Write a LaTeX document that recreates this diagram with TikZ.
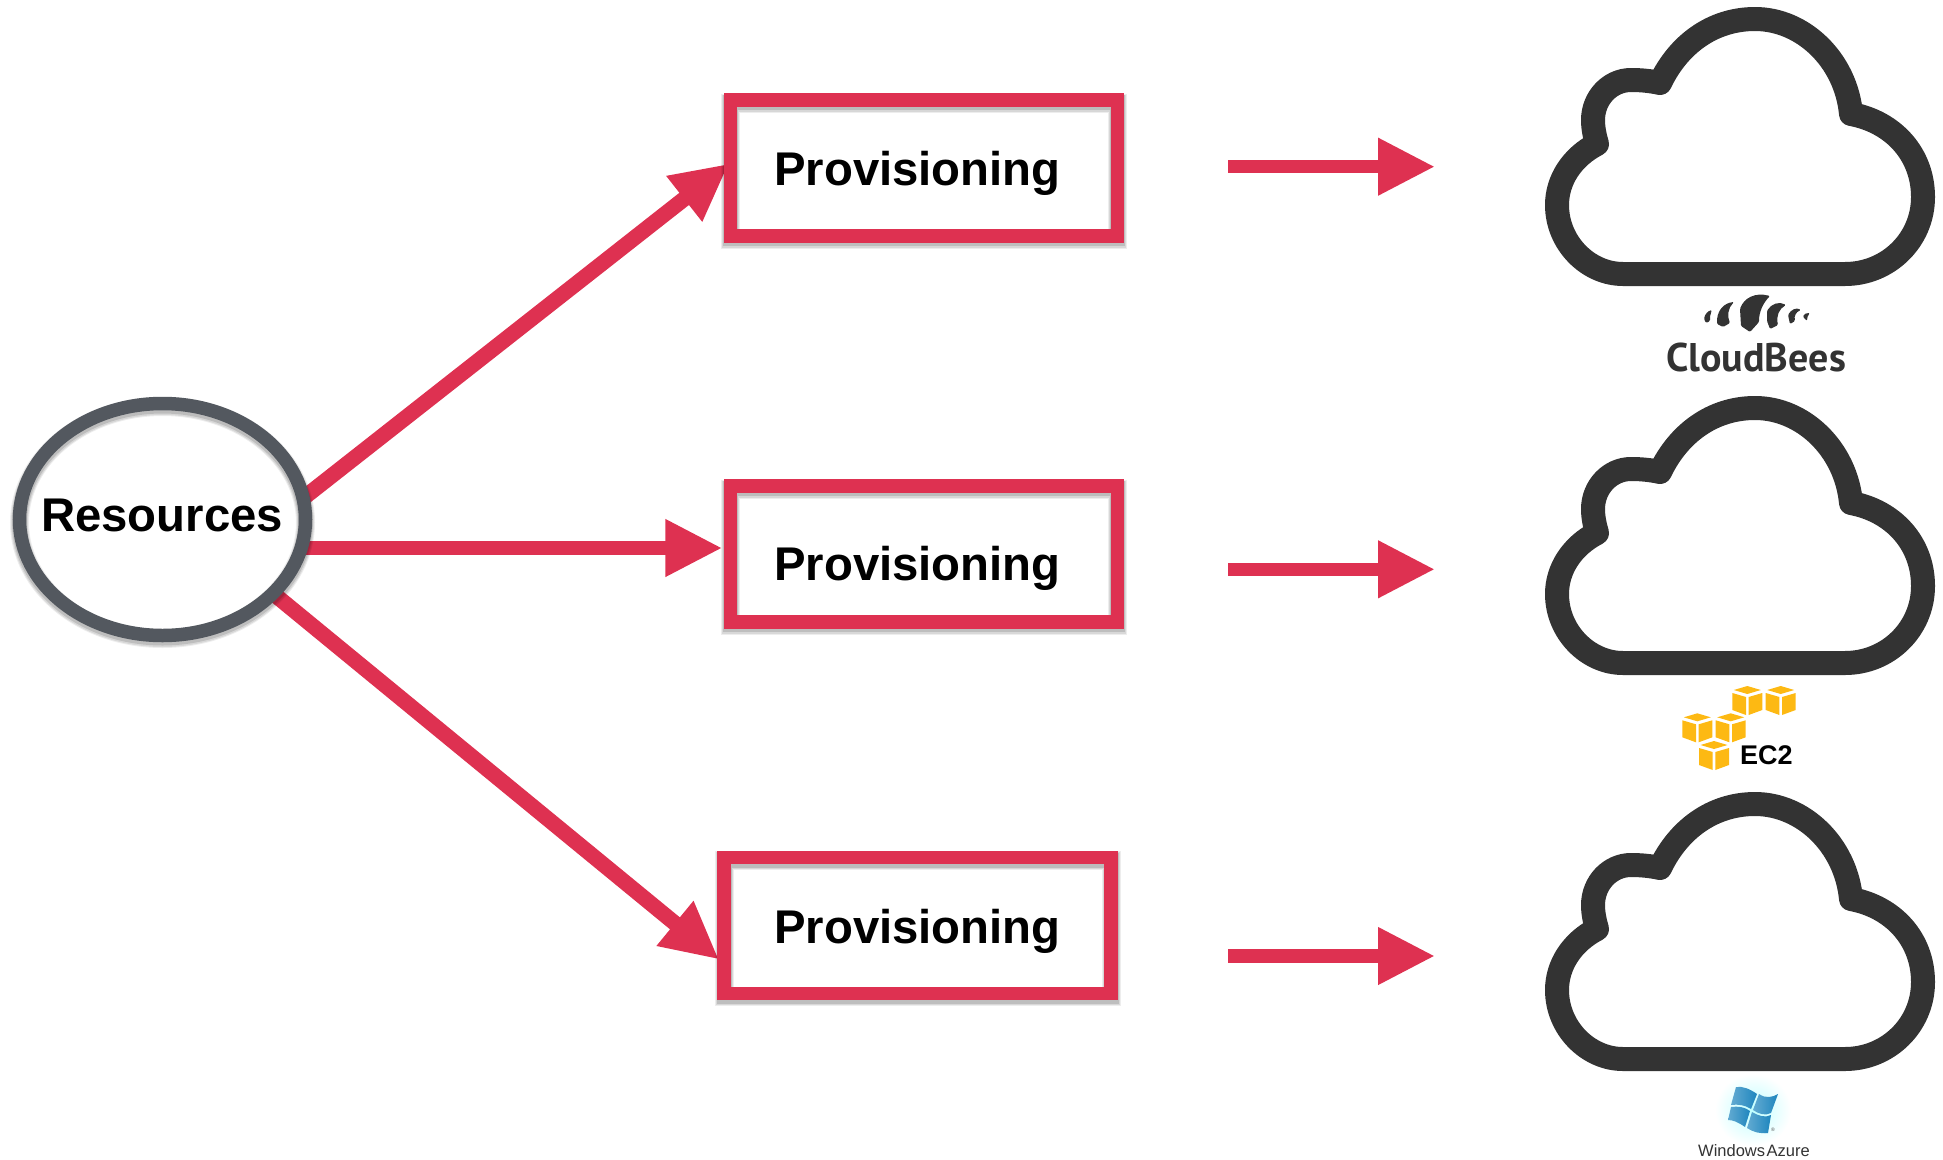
\documentclass[tikz,border=0pt]{standalone}
\usepackage{fontspec}
\setmainfont{Liberation Sans}
\newfontfamily\beesfont{PT Sans}
\usetikzlibrary{arrows.meta,shapes.geometric,backgrounds,calc}
\definecolor{crim}{HTML}{DE3151}
\definecolor{ringgray}{HTML}{53585F}
\definecolor{clouddark}{HTML}{333333}
\definecolor{amz}{HTML}{FDB913}
\definecolor{azblue}{HTML}{1F86BE}
\tikzset{
  softshadow/.style={
    preaction={fill=white},
    preaction={draw=black,draw opacity=.07,line width=19pt,transform canvas={yshift=-3pt}},
    preaction={draw=black,draw opacity=.09,line width=17pt,transform canvas={yshift=-3pt}},
    preaction={draw=black,draw opacity=.12,line width=15pt,transform canvas={yshift=-2.5pt}}},
  provbox/.style={rectangle,softshadow,draw=crim,line width=13.5pt,minimum width=387pt,minimum height=136pt,inner sep=0pt},
  resring/.style={ellipse,softshadow,draw=ringgray,line width=13.5pt,minimum width=286pt,minimum height=232pt,inner sep=0pt},
  biglabel/.style={anchor=base west,inner sep=0pt,font=\fontsize{47.3}{50}\selectfont\bfseries,text=black},
  redarrow/.style={draw=crim,line width=13.5pt,-{Triangle[length=57pt,width=54pt,fill=crim]}},
  slantarrow/.style={redarrow,line width=15.5pt},
  cloudline/.style={draw=clouddark,line width=24pt,line join=round},
  wing/.style={fill=clouddark,rounded corners=1.2pt},
  cubeface/.style={fill=amz},
  pane/.style={left color=#1!70!white,right color=#1,draw=none}
}
\newcommand{\cloudshape}[1]{%
  \draw[cloudline,yshift=#1] (1623,274) -- (1845,274)
    .. controls (1888,274) and (1923,240) .. (1923,197)
    .. controls (1923,155) and (1894,122) .. (1851,114)
    .. controls (1846,60) and (1803,19) .. (1755,19)
    .. controls (1712,19) and (1678,45) .. (1660,83)
    .. controls (1651,81) and (1641,80) .. (1631,80)
    .. controls (1610,80) and (1593,98) .. (1593,120)
    .. controls (1593,129) and (1595,137) .. (1597,144)
    .. controls (1572,157) and (1557,180) .. (1557,205)
    .. controls (1557,243) and (1588,274) .. (1623,274) -- cycle;}
\newcommand{\awscube}[2]{%
  \begin{scope}[shift={(#1,#2)}]
    \fill[cubeface] (-13.5,0) -- (0,-4) -- (13.5,0) -- (0,4) -- cycle;
    \fill[cubeface] (-15,3) -- (-1.3,7) -- (-1.3,25) -- (-15,20) -- cycle;
    \fill[cubeface] (15,3) -- (1.3,7) -- (1.3,25) -- (15,20) -- cycle;
  \end{scope}}
\begin{document}
\begin{tikzpicture}[x=1pt,y=-1pt]
\useasboundingbox (0,0) rectangle (1943,1159);
% nodes
\node[resring] (res) at (162.5,519.5) {};
\node[provbox] (p1) at (923.75,168) {};
\node[provbox] (p2) at (923.75,554) {};
\node[provbox] (p3) at (917.5,925.5) {};
\node[biglabel] (lres) at (41,531) {Resources};
\node[biglabel] (l1) at (774,185) {Provisioning};
\node[biglabel] (l2) at (774,580) {Provisioning};
\node[biglabel] (l3) at (774,943) {Provisioning};
% connector ends
\coordinate (t2) at (722.3,548);
\coordinate (t3) at (719,959.5);
\coordinate (a1s) at (1228,166.7); \coordinate (a1e) at (1435,166.7);
\coordinate (a2s) at (1228,569.3); \coordinate (a2e) at (1435,569.3);
\coordinate (a3s) at (1228,956); \coordinate (a3e) at (1435,956);
\begin{scope}[on background layer]
  \draw[slantarrow,shorten <=-8pt,shorten >=-7pt] (res.10) -- (p1.west);
  \draw[redarrow,shorten <=-14pt] (res.east |- t2) -- (t2);
  \draw[slantarrow,shorten <=-8pt] (res.-34) -- (t3);
\end{scope}
\draw[redarrow] (a1s) -- (a1e);
\draw[redarrow] (a2s) -- (a2e);
\draw[redarrow] (a3s) -- (a3e);
% clouds
\cloudshape{0pt}
\cloudshape{-389pt}
\cloudshape{-785pt}
% CloudBees logo
\fill[wing] (1704,319) .. controls (1705,314) and (1708,311) .. (1712,310) .. controls (1710,314) and (1710,318) .. (1710,321) -- (1706,323) -- cycle;
\fill[wing] (1717,320) .. controls (1718,310) and (1724,303) .. (1734,302) .. controls (1728,308) and (1727,316) .. (1730,323) -- (1723,327) -- (1717,324) -- cycle;
\fill[wing] (1740,309) .. controls (1744,298) and (1755,292) .. (1770,296) .. controls (1763,303) and (1759,312) .. (1759,322) -- (1750,332) -- (1741,326) -- cycle;
\fill[wing] (1767,311) .. controls (1771,304) and (1779,301) .. (1786,305) .. controls (1779,309) and (1776,316) .. (1778,325) -- (1770,329) -- (1767,321) -- cycle;
\fill[wing] (1788,315) .. controls (1791,310) and (1796,307) .. (1801,310) .. controls (1796,312) and (1794,316) .. (1795,321) -- (1790,324) -- cycle;
\fill[wing] (1803,317) .. controls (1804,314) and (1806,313) .. (1810,313) .. controls (1808,315) and (1807,318) .. (1807,321) -- cycle;
\node[anchor=base west,inner sep=0pt,font=\beesfont\bfseries\fontsize{40}{42}\selectfont,text=clouddark] (bees) at (1666,371) {CloudBees};
% EC2 logo
\awscube{1747.3}{690}
\awscube{1780.7}{690}
\awscube{1697.3}{717.3}
\awscube{1730.7}{717.3}
\awscube{1714}{745}
\node[anchor=base west,inner sep=0pt,font=\bfseries\fontsize{27}{29}\selectfont,text=black] (ec2) at (1740,764) {EC2};
% Azure logo
\shade[inner color=cyan!25,outer color=white,draw=none] (1753,1110) ellipse (38 and 36);
\shade[pane=azblue] (1736,1087) .. controls (1743,1086) and (1750,1089) .. (1757,1094) -- (1751,1109) .. controls (1745,1105) and (1738,1104) .. (1731,1105) -- cycle;
\shade[pane=azblue] (1759,1094) .. controls (1766,1099) and (1773,1097) .. (1778,1094) -- (1771,1113) .. controls (1765,1116) and (1759,1114) .. (1753,1110) -- cycle;
\shade[pane=azblue] (1731,1107) .. controls (1738,1106) and (1745,1107) .. (1750,1111) -- (1745,1127) .. controls (1738,1122) and (1733,1120) .. (1728,1120) -- cycle;
\shade[pane=azblue] (1752,1112) .. controls (1759,1116) and (1765,1118) .. (1771,1115) -- (1768,1133) .. controls (1760,1134) and (1753,1132) .. (1747,1128) -- cycle;
\node[inner sep=0pt,font=\fontsize{5}{6}\selectfont,text=black!70] (regm) at (1773,1130) {®};
\node[anchor=base west,inner sep=0pt,font=\fontsize{16.5}{18}\selectfont,text=black!80] (azure) at (1698,1156) {Windows\hspace{-3pt} Azure};
\end{tikzpicture}
\end{document}
